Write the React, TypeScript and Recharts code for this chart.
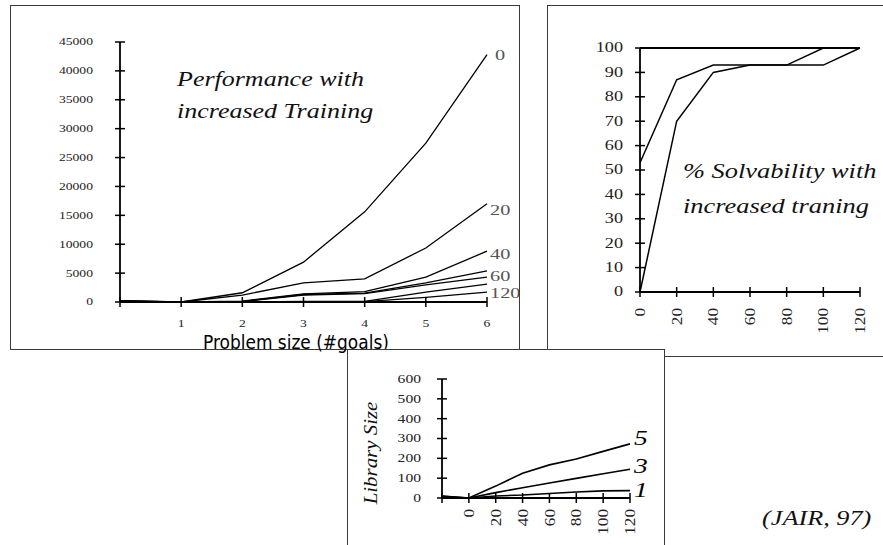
import { LineChart, Line, XAxis, YAxis } from 'recharts';

// performance vs problem size, one line per training amount
const goals = [0, 1, 2, 3, 4, 5, 6];
const goalLabels = ['', '1', '2', '3', '4', '5', '6'];
const perfTicks = [0, 5000, 10000, 15000, 20000, 25000, 30000, 35000, 40000, 45000];
const train0 = [250, 0, 1600, 6900, 15600, 27500, 42800];
const train20 = [200, 0, 1200, 3300, 4000, 9350, 17000];
const train40 = [150, 0, 150, 1400, 1800, 4300, 8800];
const train60 = [150, 0, 100, 1300, 1550, 3300, 5400];
const train80 = [100, 0, 60, 1200, 1450, 2950, 4300];
const train100 = [100, 0, 0, 100, 100, 1700, 3100];
const train120 = [50, 0, 0, 50, 50, 800, 1700];
const trainNames = ['0', '20', '40', '60', '', '', '120'];

// % solvability vs training
const trainSizes = [0, 20, 40, 60, 80, 100, 120];
const pctTicks = [0, 10, 20, 30, 40, 50, 60, 70, 80, 90, 100];
const solvedTop = [100, 100, 100, 100, 100, 100, 100];
const solvedFast = [53, 87, 93, 93, 93, 100, 100];
const solvedSlow = [0, 70, 90, 93, 93, 93, 100];

// library size vs training
const libX = [-20, 0, 20, 40, 60, 80, 100, 120];
const libLabels = ['', '0', '20', '40', '60', '80', '100', '120'];
const libTicks = [0, 100, 200, 300, 400, 500, 600];
const lib5 = [10, 0, 60, 125, 167, 197, 235, 273];
const lib3 = [8, 0, 27, 52, 76, 99, 122, 145];
const lib1 = [5, 0, 10, 15, 23, 30, 36, 37];
const libNames = ['5', '3', '1'];

const perfData = goals.map((g, i) => ({
  g,
  t0: train0[i],
  t20: train20[i],
  t40: train40[i],
  t60: train60[i],
  t80: train80[i],
  t100: train100[i],
  t120: train120[i],
}));
const perfKeys = ['t0', 't20', 't40', 't60', 't80', 't100', 't120'];
const perfLabelOffset = [
  { dx: 8, dy: 0 },
  { dx: 3, dy: 6 },
  { dx: 3, dy: 3 },
  { dx: 3, dy: 5 },
  { dx: 3, dy: 0 },
  { dx: 3, dy: 0 },
  { dx: 3, dy: 1 },
];

const solvData = trainSizes.map((t, i) => ({ t, top: solvedTop[i], fast: solvedFast[i], slow: solvedSlow[i] }));

const libData = libX.map((t, i) => ({ t, l5: lib5[i], l3: lib3[i], l1: lib1[i] }));
const libKeys = ['l5', 'l3', 'l1'];
const libLabelDy = [1, 4, 6];

const SERIF = '"Liberation Serif", "Times New Roman", serif';
const axisLine = { stroke: '#000', strokeWidth: 1.8 };

function yTick(gap: number, fontSize: number, sx: number) {
  return (p: any) => (
    <g>
      <line x1={p.x - 5} x2={p.x + 5} y1={p.y} y2={p.y} stroke="#000" strokeWidth={1.5} />
      <text
        transform={`translate(${p.x - gap},${p.y}) scale(${sx},1)`}
        textAnchor="end"
        dominantBaseline="central"
        fontSize={fontSize}
        fontFamily={SERIF}
        fill="#222"
      >
        {p.payload.value}
      </text>
    </g>
  );
}

function xTickFlat(labels: string[], values: number[]) {
  return (p: any) => (
    <g>
      <line x1={p.x} x2={p.x} y1={p.y - 5} y2={p.y + 5} stroke="#000" strokeWidth={1.5} />
      <text
        transform={`translate(${p.x},${p.y + 22}) scale(1.3,1)`}
        textAnchor="middle"
        dominantBaseline="central"
        fontSize={10.5}
        fontFamily={SERIF}
        fill="#222"
      >
        {labels[values.indexOf(p.payload.value)]}
      </text>
    </g>
  );
}

function xTickRot(labels: string[], values: number[], gap: number, fontSize: number) {
  return (p: any) => (
    <g>
      <line x1={p.x} x2={p.x} y1={p.y - 5} y2={p.y + 5} stroke="#000" strokeWidth={1.5} />
      <text
        transform={`translate(${p.x},${p.y + gap}) rotate(-90) scale(1.15,1)`}
        textAnchor="end"
        dominantBaseline="central"
        fontSize={fontSize}
        fontFamily={SERIF}
        fill="#222"
      >
        {labels[values.indexOf(p.payload.value)]}
      </text>
    </g>
  );
}

// axes are 1px thick so that recharts still renders them; margins absorb that pixel
const axisCommon = {
  interval: 0 as const,
  tickSize: 0,
  tickMargin: 0,
  tickLine: false,
  axisLine,
};

function PerfChart() {
  const last = goals.length - 1;
  return (
    <LineChart width={530} height={352} data={perfData} margin={{ top: 42, right: 43, bottom: 49, left: 119 }}>
      <XAxis
        {...axisCommon}
        dataKey="g"
        type="number"
        domain={[0, 6]}
        ticks={goals}
        height={1}
        tick={xTickFlat(goalLabels, goals)}
      />
      <YAxis {...axisCommon} type="number" domain={[0, 45000]} ticks={perfTicks} width={1} tick={yTick(27, 10.5, 1.3)} />
      {perfKeys.map((k, si) => (
        <Line
          key={k}
          dataKey={k}
          type="linear"
          stroke="#000"
          strokeWidth={1.3}
          isAnimationActive={false}
          activeDot={false}
          dot={(d: any) =>
            d.index === last && trainNames[si] ? (
              <text
                key={`${k}-${d.index}`}
                transform={`translate(${d.cx + perfLabelOffset[si].dx},${d.cy + perfLabelOffset[si].dy}) scale(1.4,1)`}
                dominantBaseline="central"
                fontSize={14.5}
                fontFamily={SERIF}
                fill="#555"
              >
                {trainNames[si]}
              </text>
            ) : (
              <g key={`${k}-${d.index}`} />
            )
          }
        />
      ))}
    </LineChart>
  );
}

function SolvChart() {
  return (
    <LineChart width={336} height={352} data={solvData} margin={{ top: 43, right: 23, bottom: 64, left: 92 }}>
      <XAxis
        {...axisCommon}
        dataKey="t"
        type="number"
        domain={[0, 120]}
        ticks={trainSizes}
        height={1}
        tick={xTickRot(trainSizes.map(String), trainSizes, 16, 15)}
      />
      <YAxis {...axisCommon} type="number" domain={[0, 100]} ticks={pctTicks} width={1} tick={yTick(17, 14, 1.3)} />
      <Line dataKey="top" type="linear" stroke="#000" strokeWidth={1.8} dot={false} activeDot={false} isAnimationActive={false} />
      <Line dataKey="fast" type="linear" stroke="#000" strokeWidth={1.5} dot={false} activeDot={false} isAnimationActive={false} />
      <Line dataKey="slow" type="linear" stroke="#000" strokeWidth={1.5} dot={false} activeDot={false} isAnimationActive={false} />
    </LineChart>
  );
}

function LibChart() {
  const last = libX.length - 1;
  return (
    <LineChart width={318} height={196} data={libData} margin={{ top: 30, right: 35, bottom: 46, left: 94 }}>
      <XAxis
        {...axisCommon}
        dataKey="t"
        type="number"
        domain={[-20, 120]}
        ticks={libX}
        height={1}
        tick={xTickRot(libLabels, libX, 11, 15)}
      />
      <YAxis {...axisCommon} type="number" domain={[0, 600]} ticks={libTicks} width={1} tick={yTick(21, 12, 1.3)} />
      {libKeys.map((k, si) => (
        <Line
          key={k}
          dataKey={k}
          type="linear"
          stroke="#000"
          strokeWidth={1.6}
          isAnimationActive={false}
          activeDot={false}
          dot={(d: any) =>
            d.index === last ? (
              <text
                key={`${k}-${d.index}`}
                transform={`translate(${d.cx + 4},${d.cy + libLabelDy[si]}) scale(1.25,1)`}
                fontSize={22}
                fontStyle="italic"
                fontFamily={SERIF}
                fill="#000"
              >
                {libNames[si]}
              </text>
            ) : (
              <g key={`${k}-${d.index}`} />
            )
          }
        />
      ))}
    </LineChart>
  );
}

const abs = (left: number, top: number, extra: any = {}) => ({ position: 'absolute' as const, left, top, ...extra });
const frame = '1.5px solid #3a3a3a';

export default function App() {
  return (
    <div style={abs(0, 0, { width: 883, height: 545, overflow: 'hidden', background: '#fff' })}>
      <div style={abs(0, 0)}>
        <PerfChart />
      </div>
      <div style={abs(547, 5)}>
        <SolvChart />
      </div>
      <div style={abs(10, 5, { width: 510, height: 345, border: frame, boxSizing: 'border-box' })} />
      <div style={abs(547, 5, { width: 345, height: 352, border: frame, boxSizing: 'border-box' })} />
      <svg width={883} height={545} style={abs(0, 0)}>
        <g fontFamily={SERIF} fontStyle="italic" fill="#111">
          <text transform="translate(177,86) scale(1.3,1)" fontSize={20}>Performance with</text>
          <text transform="translate(177,118) scale(1.3,1)" fontSize={20}>increased Training</text>
          <text transform="translate(683,178) scale(1.2,1)" fontSize={22}>% Solvability with</text>
          <text transform="translate(683,213) scale(1.2,1)" fontSize={22}>increased traning</text>
        </g>
        <text transform="translate(203,349) scale(1,1.1)" fontSize={17} fontFamily='"DejaVu Sans", sans-serif' fill="#000">
          Problem size (#goals)
        </text>
      </svg>
      <div style={abs(347, 349, { width: 318, height: 210, border: frame, boxSizing: 'border-box', background: '#fff' })} />
      <div style={abs(347, 349)}>
        <LibChart />
      </div>
      <svg width={883} height={545} style={abs(0, 0, { pointerEvents: 'none' })}>
        <g fontFamily={SERIF} fontStyle="italic" fill="#111">
          <text transform="translate(377,453) rotate(-90) scale(1.1,1)" textAnchor="middle" fontSize={19}>Library Size</text>
          <text transform="translate(762,525) scale(1.25,1)" fontSize={21}>(JAIR, 97)</text>
        </g>
      </svg>
    </div>
  );
}
